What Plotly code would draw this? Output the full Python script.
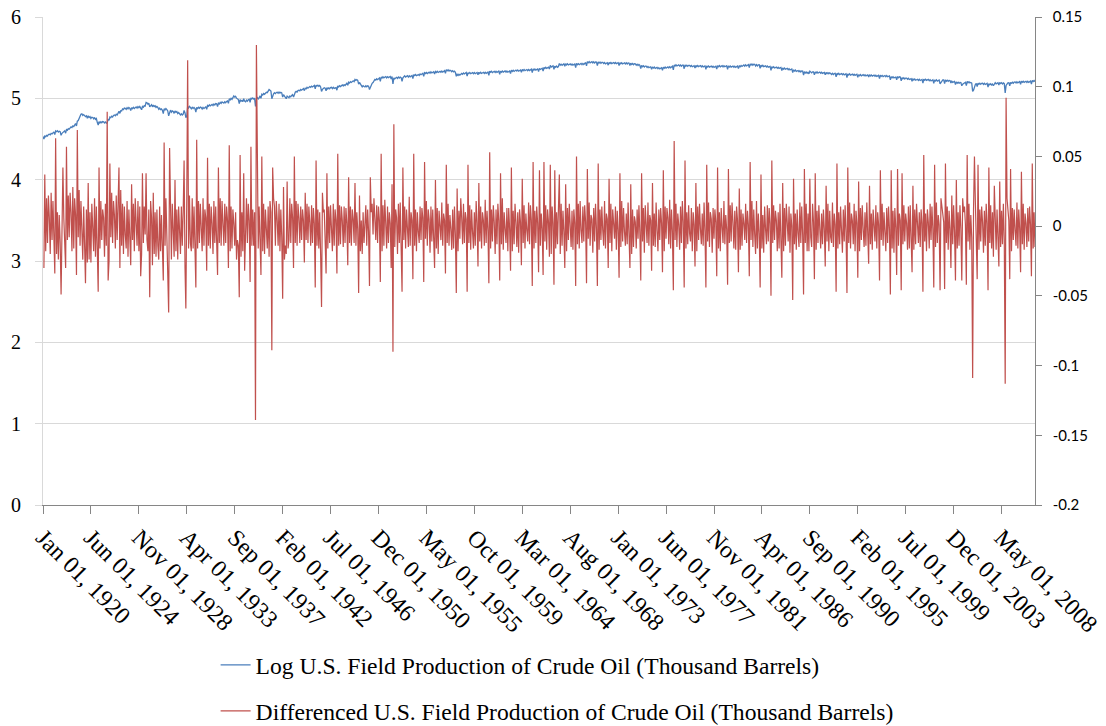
import pandas as pd
import plotly.graph_objects as go

# ---------------------------------------------------------------------------
# Data (values x1000), one row per year, Jan..Dec
# Log U.S. Field Production of Crude Oil (Thousand Barrels), left axis
# ---------------------------------------------------------------------------
log_1920s = [
    [4530, 4500, 4537, 4528, 4545, 4536, 4555, 4560, 4552, 4570, 4562, 4580],
    [4588, 4555, 4600, 4590, 4602, 4585, 4595, 4590, 4545, 4570, 4585, 4592],
    [4600, 4572, 4615, 4608, 4628, 4620, 4642, 4648, 4640, 4660, 4652, 4672],
    [4690, 4660, 4720, 4728, 4760, 4765, 4805, 4810, 4790, 4800, 4782, 4775],
    [4785, 4755, 4785, 4765, 4775, 4752, 4768, 4765, 4748, 4765, 4742, 4752],
    [4705, 4672, 4712, 4698, 4712, 4700, 4715, 4712, 4698, 4710, 4694, 4700],
    [4745, 4730, 4770, 4762, 4780, 4770, 4790, 4795, 4785, 4805, 4795, 4815],
    [4840, 4815, 4848, 4845, 4870, 4862, 4880, 4878, 4865, 4885, 4870, 4888],
    [4878, 4850, 4885, 4872, 4888, 4874, 4892, 4895, 4880, 4898, 4884, 4900],
    [4880, 4860, 4900, 4890, 4910, 4905, 4950, 4945, 4928, 4942, 4895, 4915],
]
log_1930s = [
    [4922, 4895, 4918, 4900, 4908, 4888, 4900, 4888, 4865, 4880, 4862, 4870],
    [4852, 4812, 4872, 4858, 4875, 4862, 4845, 4785, 4840, 4855, 4830, 4845],
    [4838, 4815, 4845, 4828, 4838, 4812, 4825, 4815, 4795, 4810, 4795, 4805],
    [4850, 4820, 4762, 4780, 4898, 4882, 4902, 4890, 4872, 4890, 4875, 4888],
    [4875, 4830, 4890, 4874, 4890, 4878, 4892, 4886, 4868, 4888, 4874, 4886],
    [4895, 4865, 4912, 4902, 4920, 4908, 4922, 4925, 4910, 4930, 4918, 4935],
    [4932, 4900, 4940, 4930, 4950, 4938, 4955, 4952, 4940, 4958, 4946, 4962],
    [4968, 4938, 4995, 4982, 5000, 4988, 5022, 5030, 5015, 5025, 5002, 4992],
    [4985, 4935, 4985, 4965, 4975, 4958, 4995, 4965, 4958, 4978, 4966, 4982],
    [4988, 4950, 5005, 4992, 5005, 4992, 5002, 4900, 4995, 5008, 4992, 5005],
]
log_1940s = [
    [5030, 5000, 5050, 5040, 5060, 5050, 5068, 5075, 5070, 5095, 5108, 5100],
    [5090, 4995, 5040, 5055, 5068, 5058, 5072, 5075, 5062, 5078, 5064, 5075],
    [5068, 5015, 5045, 5022, 5010, 4995, 5028, 5015, 5008, 5028, 5018, 5035],
    [5045, 5015, 5065, 5075, 5085, 5078, 5095, 5100, 5092, 5110, 5100, 5115],
    [5120, 5095, 5125, 5118, 5135, 5125, 5140, 5145, 5135, 5150, 5140, 5155],
    [5158, 5118, 5162, 5150, 5162, 5148, 5158, 5140, 5085, 5110, 5120, 5130],
    [5125, 5092, 5130, 5115, 5128, 5118, 5132, 5135, 5120, 5135, 5122, 5128],
    [5132, 5100, 5152, 5140, 5155, 5145, 5160, 5165, 5152, 5168, 5158, 5175],
    [5185, 5160, 5198, 5188, 5205, 5195, 5210, 5215, 5205, 5232, 5220, 5230],
    [5220, 5175, 5195, 5168, 5160, 5142, 5155, 5145, 5140, 5155, 5142, 5155],
]
log_1950s = [
    [5150, 5108, 5142, 5162, 5185, 5195, 5222, 5232, 5225, 5240, 5230, 5245],
    [5250, 5210, 5262, 5250, 5265, 5252, 5265, 5268, 5252, 5266, 5254, 5264],
    [5268, 5238, 5268, 5178, 5252, 5240, 5252, 5258, 5245, 5262, 5250, 5262],
    [5255, 5210, 5252, 5265, 5278, 5262, 5275, 5278, 5262, 5278, 5265, 5275],
    [5280, 5242, 5292, 5280, 5292, 5278, 5290, 5292, 5282, 5300, 5290, 5305],
    [5308, 5270, 5315, 5305, 5318, 5305, 5318, 5322, 5310, 5325, 5312, 5325],
    [5328, 5298, 5330, 5318, 5332, 5318, 5330, 5332, 5320, 5335, 5322, 5335],
    [5340, 5308, 5352, 5338, 5350, 5335, 5345, 5342, 5328, 5340, 5325, 5335],
    [5320, 5270, 5296, 5282, 5296, 5285, 5300, 5306, 5296, 5312, 5300, 5314],
    [5318, 5272, 5316, 5304, 5318, 5303, 5315, 5316, 5302, 5316, 5303, 5316],
]
log_1960s = [
    [5318, 5290, 5320, 5306, 5320, 5306, 5318, 5320, 5306, 5320, 5307, 5320],
    [5322, 5282, 5334, 5320, 5332, 5317, 5329, 5332, 5318, 5333, 5320, 5332],
    [5335, 5296, 5334, 5321, 5336, 5322, 5335, 5337, 5322, 5335, 5321, 5334],
    [5336, 5304, 5346, 5331, 5344, 5331, 5345, 5348, 5335, 5349, 5334, 5346],
    [5349, 5321, 5355, 5341, 5355, 5340, 5352, 5354, 5340, 5355, 5342, 5355],
    [5359, 5316, 5362, 5349, 5361, 5347, 5360, 5362, 5329, 5369, 5355, 5367],
    [5370, 5335, 5381, 5367, 5381, 5368, 5380, 5383, 5361, 5405, 5385, 5397],
    [5399, 5357, 5397, 5383, 5396, 5381, 5391, 5428, 5408, 5420, 5406, 5417],
    [5425, 5395, 5425, 5411, 5424, 5410, 5422, 5424, 5409, 5422, 5408, 5420],
    [5422, 5379, 5429, 5414, 5426, 5413, 5426, 5429, 5415, 5429, 5416, 5428],
]
log_1970s = [
    [5440, 5399, 5450, 5437, 5451, 5437, 5449, 5451, 5436, 5449, 5434, 5447],
    [5445, 5402, 5447, 5433, 5445, 5430, 5441, 5442, 5428, 5440, 5424, 5436],
    [5438, 5408, 5442, 5428, 5441, 5427, 5439, 5441, 5428, 5441, 5427, 5438],
    [5439, 5402, 5440, 5425, 5437, 5423, 5436, 5437, 5423, 5436, 5423, 5435],
    [5433, 5403, 5433, 5417, 5429, 5414, 5425, 5424, 5408, 5420, 5405, 5416],
    [5405, 5366, 5404, 5389, 5400, 5385, 5396, 5395, 5380, 5392, 5378, 5389],
    [5388, 5356, 5387, 5372, 5384, 5369, 5381, 5381, 5365, 5377, 5363, 5376],
    [5377, 5344, 5384, 5371, 5385, 5371, 5384, 5387, 5374, 5389, 5376, 5389],
    [5395, 5349, 5410, 5398, 5412, 5398, 5410, 5411, 5397, 5410, 5396, 5409],
    [5408, 5364, 5411, 5396, 5408, 5394, 5406, 5406, 5391, 5404, 5389, 5401],
]
log_1980s = [
    [5402, 5373, 5404, 5390, 5404, 5390, 5403, 5403, 5387, 5401, 5387, 5399],
    [5399, 5355, 5399, 5385, 5398, 5383, 5395, 5396, 5382, 5395, 5381, 5394],
    [5395, 5359, 5401, 5388, 5402, 5388, 5401, 5402, 5387, 5401, 5388, 5400],
    [5400, 5358, 5399, 5385, 5398, 5383, 5395, 5396, 5382, 5395, 5381, 5393],
    [5398, 5365, 5398, 5388, 5404, 5392, 5406, 5410, 5396, 5412, 5398, 5412],
    [5414, 5378, 5424, 5410, 5422, 5407, 5419, 5417, 5397, 5415, 5399, 5411],
    [5412, 5370, 5408, 5393, 5405, 5390, 5401, 5400, 5385, 5397, 5383, 5394],
    [5393, 5343, 5390, 5375, 5387, 5373, 5384, 5384, 5369, 5382, 5368, 5380],
    [5380, 5343, 5374, 5359, 5372, 5357, 5369, 5368, 5352, 5364, 5349, 5361],
    [5362, 5317, 5351, 5336, 5347, 5332, 5343, 5342, 5327, 5339, 5325, 5337],
]
log_1990s = [
    [5335, 5286, 5327, 5312, 5324, 5308, 5319, 5301, 5335, 5327, 5313, 5325],
    [5326, 5288, 5326, 5312, 5325, 5310, 5322, 5323, 5308, 5321, 5307, 5319],
    [5319, 5290, 5319, 5304, 5316, 5302, 5313, 5305, 5293, 5307, 5292, 5304],
    [5308, 5263, 5308, 5294, 5307, 5292, 5304, 5305, 5290, 5303, 5288, 5301],
    [5302, 5256, 5300, 5287, 5300, 5284, 5297, 5298, 5284, 5296, 5283, 5295],
    [5296, 5259, 5292, 5278, 5292, 5276, 5290, 5291, 5277, 5290, 5276, 5289],
    [5289, 5262, 5290, 5276, 5288, 5273, 5285, 5286, 5271, 5284, 5270, 5283],
    [5283, 5244, 5284, 5270, 5282, 5268, 5280, 5281, 5266, 5279, 5265, 5277],
    [5276, 5228, 5268, 5254, 5266, 5252, 5263, 5262, 5228, 5268, 5254, 5265],
    [5262, 5216, 5255, 5240, 5252, 5237, 5249, 5249, 5234, 5246, 5232, 5244],
]
log_2000s = [
    [5243, 5210, 5239, 5226, 5238, 5223, 5235, 5235, 5220, 5233, 5219, 5231],
    [5232, 5186, 5237, 5223, 5235, 5220, 5232, 5232, 5217, 5229, 5214, 5227],
    [5228, 5184, 5228, 5214, 5227, 5212, 5224, 5225, 5179, 5199, 5213, 5226],
    [5226, 5181, 5226, 5211, 5223, 5209, 5220, 5218, 5188, 5210, 5196, 5208],
    [5208, 5169, 5202, 5187, 5199, 5184, 5195, 5193, 5154, 5174, 5184, 5198],
    [5198, 5156, 5207, 5193, 5205, 5190, 5196, 5188, 5085, 5100, 5150, 5168],
    [5182, 5144, 5188, 5174, 5186, 5172, 5184, 5185, 5171, 5184, 5170, 5182],
    [5184, 5138, 5180, 5166, 5178, 5164, 5176, 5155, 5184, 5192, 5178, 5190],
    [5192, 5163, 5195, 5181, 5193, 5178, 5190, 5180, 5067, 5159, 5179, 5191],
    [5193, 5155, 5196, 5184, 5198, 5185, 5199, 5202, 5189, 5203, 5190, 5203],
]
log_2010s = [
    [5206, 5173, 5212, 5198, 5210, 5196, 5209, 5210, 5196, 5210, 5197, 5211],
    [5212, 5176, 5221, 5207, 5219, 5205],
]

# Differenced series (x1000), right axis; first row starts Feb 1920
diff_1920s = [
    [-30, 37, -18, 20, -12, 22, 6, -20, 24, -10, 18],
    [-22, -34, 63, -20, 10, -24, 8, -12, -49, 26, 42, 6],
    [-15, -30, 57, -10, 22, -8, 24, 10, -18, 28, -16, 20],
    [8, -35, 69, -8, 26, -14, 18, -10, -24, 14, -20, -41],
    [12, -26, 31, -24, 10, -26, 16, -4, -18, 20, -22, 14],
    [-20, -47, 42, -16, 18, -10, 12, 6, -22, 16, -14, 82],
    [-39, -25, 45, -8, 24, -12, 18, 8, -16, 22, -10, 16],
    [42, -30, 26, -14, 16, -20, 14, -6, -16, 18, -22, 12],
    [-10, -28, 30, -10, 16, -18, 20, 2, -14, 18, -18, 14],
    [-36, -20, 38, -12, 14, -6, 38, -10, -18, 12, -51, 18],
]
diff_1930s = [
    [6, -28, 24, -20, 10, -22, 12, -14, -24, 14, -18, 8],
    [-18, -39, 60, -14, 20, -12, -18, -62, 56, 14, -24, 16],
    [-8, -22, 33, -18, 12, -24, 14, -10, -20, 14, -14, 10],
    [47, -30, -59, 20, 119, -16, 22, -12, -18, 20, -16, 14],
    [-10, -44, 62, -16, 18, -12, 16, -6, -18, 20, -14, 12],
    [6, -32, 49, -14, 16, -16, 14, 2, -20, 18, -12, 14],
    [-6, -35, 42, -12, 20, -14, 18, -4, -14, 16, -12, 14],
    [4, -30, 58, -18, 14, -16, 12, 2, -14, 10, -24, -10],
    [-14, -51, 51, -22, 10, -18, 38, -32, -10, 20, -12, 16],
    [4, -40, 57, -14, 12, -14, 10, -139, 130, 12, -16, 14],
]
diff_1940s = [
    [-8, -35, 50, -18, 16, -20, 12, -4, -16, 14, -22, 18],
    [10, -89, 42, 20, 14, -14, 18, 4, -14, 16, -18, 12],
    [-8, -52, 28, -24, -14, -20, 32, -16, -10, 20, -12, 16],
    [6, -30, 50, -12, 18, -14, 16, 6, -12, 14, -10, 12],
    [4, -26, 24, -10, 16, -12, 14, 3, -14, 15, -12, 13],
    [2, -44, 47, -14, 12, -16, 10, -20, -58, 24, 10, 12],
    [-6, -34, 38, -16, 14, -12, 15, 2, -18, 16, -14, 12],
    [4, -34, 52, -14, 15, -13, 14, 4, -15, 14, -12, 13],
    [2, -28, 35, -12, 14, -14, 12, 5, -12, 31, -14, 10],
    [-2, -48, 22, -18, 4, -20, 10, -12, 2, 15, -14, 12],
]
diff_1950s = [
    [-4, -43, 35, 10, 16, -6, 20, 2, -10, 15, -12, 14],
    [4, -40, 52, -18, 15, -14, 19, 2, -16, 14, -12, 10],
    [2, -30, 30, -90, 73, -15, 12, 6, -20, 16, -12, 17],
    [-6, -47, 42, -10, 14, -16, 12, 2, -15, 21, -14, 10],
    [4, -38, 52, -14, 12, -18, 10, -4, -12, 14, -10, 13],
    [6, -40, 46, -9, 18, -14, 12, 5, -19, 14, -11, 12],
    [-3, -30, 33, -16, 13, -20, 11, 3, -10, 17, -14, 9],
    [4, -34, 44, -12, 16, -14, 8, -2, -17, 12, -16, 14],
    [-6, -48, 27, -18, 11, -9, 20, 6, -13, 16, -12, 10],
    [5, -47, 44, -12, 15, -17, 12, -4, -16, 10, -14, 18],
]
diff_1960s = [
    [2, -29, 31, -11, 14, -16, 10, 4, -14, 19, -12, 11],
    [-3, -41, 53, -16, 12, -11, 15, 3, -20, 12, -13, 16],
    [4, -39, 38, -13, 20, -17, 10, -2, -12, 13, -18, 13],
    [-2, -32, 42, -18, 11, -13, 16, 3, -15, 10, -19, 12],
    [3, -28, 34, -12, 15, -16, 9, -3, -11, 17, -13, 15],
    [4, -43, 46, -16, 11, -12, 14, 2, -33, 40, -14, 9],
    [-2, -35, 46, -11, 15, -17, 12, 3, -22, 44, -20, 14],
    [2, -42, 40, -16, 10, -13, 10, 37, -20, 16, -14, 11],
    [-4, -30, 30, -18, 13, -10, 16, 2, -15, 11, -17, 12],
    [2, -43, 50, -13, 16, -16, 18, -3, -12, 14, -11, 15],
]
diff_1970s = [
    [3, -41, 41, -9, 17, -14, 8, 5, -19, 13, -11, 16],
    [-2, -43, 45, -17, 12, -10, 14, -3, -14, 18, -16, 9],
    [5, -30, 34, -12, 16, -18, 12, 2, -9, 14, -17, 11],
    [-3, -37, 38, -15, 18, -11, 13, -4, -14, 9, -13, 17],
    [-2, -30, 30, -20, 12, -15, 7, 3, -16, 12, -9, 15],
    [-5, -39, 38, -11, 13, -19, 15, 0, -12, 17, -14, 8],
    [4, -32, 31, -14, 9, -15, 17, -3, -18, 12, -10, 13],
    [2, -33, 40, -18, 14, -9, 13, 6, -13, 19, -16, 12],
    [-4, -46, 61, -10, 16, -15, 9, 1, -17, 14, -12, 18],
    [3, -44, 47, -16, 10, -13, 15, -5, -11, 13, -18, 10],
]
diff_1980s = [
    [1, -29, 31, -18, 14, -10, 16, -2, -13, 9, -14, 17],
    [-4, -44, 44, -11, 17, -15, 10, 5, -19, 13, -9, 12],
    [3, -36, 42, -16, 10, -18, 13, -1, -12, 18, -13, 8],
    [-2, -42, 41, -12, 15, -11, 17, 3, -16, 11, -17, 14],
    [4, -33, 27, -17, 12, -14, 9, 2, -10, 16, -12, 11],
    [1, -36, 46, -10, 18, -15, 12, -6, -20, 18, -16, 9],
    [-5, -44, 37, -16, 8, -19, 14, -2, -13, 15, -11, 13],
    [2, -50, 47, -12, 15, -10, 11, 4, -18, 10, -16, 16],
    [-3, -37, 31, -18, 13, -14, 16, -1, -11, 14, -19, 9],
    [0, -53, 34, -13, 9, -17, 12, -5, -15, 17, -12, 14],
]
diff_1990s = [
    [-6, -49, 41, -12, 16, -18, 9, -18, 34, -8, -15, 16],
    [3, -38, 38, -17, 11, -12, 15, -2, -16, 9, -13, 12],
    [-2, -29, 29, -11, 16, -18, 11, -8, -12, 17, -15, 9],
    [1, -47, 45, -16, 10, -13, 14, -3, -19, 12, -11, 15],
    [-4, -48, 42, -12, 17, -16, 9, 4, -13, 16, -18, 11],
    [2, -37, 32, -18, 13, -10, 15, -2, -15, 10, -14, 17],
    [-3, -27, 29, -13, 9, -17, 12, 3, -11, 15, -16, 10],
    [1, -39, 40, -10, 16, -14, 10, -4, -18, 13, -12, 14],
    [-2, -49, 40, -16, 11, -19, 13, -1, -35, 41, -14, 9],
    [4, -46, 38, -13, 15, -11, 9, 2, -17, 14, -16, 15],
]
diff_2000s = [
    [-3, -33, 29, -17, 12, -13, 16, -4, -12, 10, -15, 12],
    [2, -47, 51, -11, 9, -18, 12, 3, -16, 16, -10, 14],
    [-2, -44, 44, -15, 17, -12, 8, 1, -46, 20, 14, 9],
    [3, -45, 45, -12, 14, -17, 11, -2, -30, 22, -13, 15],
    [-4, -39, 33, -16, 10, -14, 15, -2, -39, 20, 10, 14],
    [1, -42, 51, -11, 16, -17, 8, -8, -109, 12, 50, 18],
    [-5, -38, 44, -17, 12, -11, 14, 3, -19, 11, -14, 16],
    [2, -46, 42, -12, 15, -16, 10, -22, 29, 8, -17, 12],
    [-3, -29, 32, -15, 11, -13, 16, -10, -113, 92, 20, 9],
    [4, -38, 41, -18, 13, -10, 12, -3, -14, 17, -16, 12],
]
diff_2010s = [
    [-2, -33, 39, -13, 16, -17, 9, 2, -15, 13, -11, 14],
    [1, -36, 45, -16, 10, -15],
]

x_tick_labels = [
    "Jan 01, 1920", "Jun 01, 1924", "Nov 01, 1928", "Apr 01, 1933", "Sep 01, 1937",
    "Feb 01, 1942", "Jul 01, 1946", "Dec 01, 1950", "May 01, 1955", "Oct 01, 1959",
    "Mar 01, 1964", "Aug 01, 1968", "Jan 01, 1973", "Jun 01, 1977", "Nov 01, 1981",
    "Apr 01, 1986", "Sep 01, 1990", "Feb 01, 1995", "Jul 01, 1999", "Dec 01, 2003",
    "May 01, 2008",
]
left_ticks = [0, 1, 2, 3, 4, 5, 6]
right_ticks = [-0.2, -0.15, -0.1, -0.05, 0, 0.05, 0.1, 0.15]
right_tick_text = ["-0.2", "-0.15", "-0.1", "-0.05", "0", "0.05", "0.1", "0.15"]

name_log = "Log U.S. Field Production of Crude Oil (Thousand Barrels)"
name_diff = "Differenced U.S. Field Production of Crude Oil (Thousand Barrels)"


def flatten(decades):
    out = []
    for dec in decades:
        for row in dec:
            out.extend(row)
    return out


log_vals = [v / 1000 for v in flatten([log_1920s, log_1930s, log_1940s, log_1950s, log_1960s,
                                        log_1970s, log_1980s, log_1990s, log_2000s, log_2010s])]
diff_vals = [v / 1000 for v in flatten([diff_1920s, diff_1930s, diff_1940s, diff_1950s, diff_1960s,
                                         diff_1970s, diff_1980s, diff_1990s, diff_2000s, diff_2010s])]
log_dates = pd.date_range("1920-01-01", periods=len(log_vals), freq="MS")
diff_dates = pd.date_range("1920-02-01", periods=len(diff_vals), freq="MS")
tick_dates = pd.to_datetime(x_tick_labels, format="%b %d, %Y")

SERIF = "Liberation Serif, Times New Roman, serif"
# small gap between the right axis ticks and their labels
right_tick_display = ["\u00a0\u00a0" + t for t in right_tick_text]

fig = go.Figure()
fig.add_trace(go.Scatter(
    x=log_dates, y=log_vals, mode="lines", name=name_log,
    line=dict(color="#4A7EBB", width=1.3), legend="legend",
))
fig.add_trace(go.Scatter(
    x=diff_dates, y=diff_vals, mode="lines", name=name_diff,
    line=dict(color="#C0504D", width=1.2), yaxis="y2", legend="legend2",
))

fig.update_layout(
    width=1106, height=726,
    margin=dict(l=43, r=71, t=17, b=221, autoexpand=False),
    paper_bgcolor="white", plot_bgcolor="white",
    showlegend=True,
    xaxis=dict(
        type="date", range=[log_dates[0], log_dates[-1]],
        tickmode="array", tickvals=tick_dates, ticktext=x_tick_labels,
        tickangle=45, ticks="outside", ticklen=8, tickcolor="#868686",
        showline=True, linecolor="#868686", linewidth=1,
        showgrid=False, zeroline=False, automargin=False,
        tickfont=dict(family=SERIF, size=24, color="black"),
    ),
    yaxis=dict(
        range=[0, 6], tickmode="array", tickvals=left_ticks,
        showgrid=True, gridcolor="#D9D9D9", gridwidth=1,
        showline=True, linecolor="#D9D9D9", linewidth=1,
        ticks="outside", ticklen=7, tickcolor="#D9D9D9",
        zeroline=False, ticklabelstandoff=10, automargin=False,
        tickfont=dict(family=SERIF, size=20, color="black"),
    ),
    yaxis2=dict(
        range=[-0.2, 0.15], overlaying="y", side="right", anchor="x",
        tickmode="array", tickvals=right_ticks, ticktext=right_tick_display,
        showgrid=False, zeroline=False, automargin=False,
        showline=True, linecolor="#868686", linewidth=1,
        ticks="outside", ticklen=6, tickcolor="#868686",
        tickfont=dict(family="Lato, Calibri, sans-serif", size=15, color="black"),
    ),
    legend=dict(
        x=0.174, y=-0.328, xanchor="left", yanchor="middle",
        font=dict(family=SERIF, size=23.6, color="black"),
        bgcolor="rgba(0,0,0,0)",
    ),
    legend2=dict(
        x=0.174, y=-0.422, xanchor="left", yanchor="middle",
        font=dict(family=SERIF, size=23.6, color="black"),
        bgcolor="rgba(0,0,0,0)",
    ),
)

fig.write_html("out.html")
